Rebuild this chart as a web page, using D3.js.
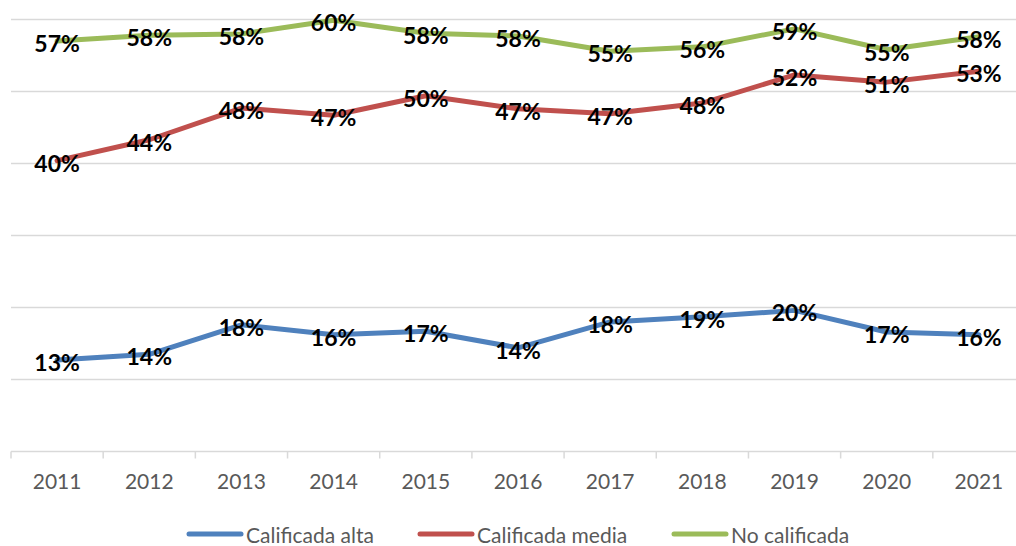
<!DOCTYPE html>
<html>
<head>
<meta charset="utf-8">
<script src="https://cdn.jsdelivr.net/npm/d3@7"></script>
<style>
    body { margin: 0; background: #fff; }
    svg { display: block; }
    text { font-family: Lato, "Open Sans", sans-serif; }
</style>
</head>
<body>
<div id="chart"></div>
<script>
// Data
var years = ["2011", "2012", "2013", "2014", "2015", "2016", "2017", "2018", "2019", "2020", "2021"];
var seriesNames = ["Calificada alta", "Calificada media", "No calificada"];
var altaValues = [0.127, 0.135, 0.176, 0.162, 0.167, 0.144, 0.180, 0.187, 0.196, 0.166, 0.162];
var mediaValues = [0.404, 0.433, 0.477, 0.467, 0.494, 0.476, 0.469, 0.484, 0.523, 0.513, 0.528];
var noCalifValues = [0.570, 0.578, 0.580, 0.599, 0.581, 0.577, 0.556, 0.562, 0.587, 0.558, 0.576];
var labelTexts = [
    ["13%", "14%", "18%", "16%", "17%", "14%", "18%", "19%", "20%", "17%", "16%"],
    ["40%", "44%", "48%", "47%", "50%", "47%", "47%", "48%", "52%", "51%", "53%"],
    ["57%", "58%", "58%", "60%", "58%", "58%", "55%", "56%", "59%", "55%", "58%"]
];
var gridTicks = [0, 0.1, 0.2, 0.3, 0.4, 0.5, 0.6];
var colors = ["#4F81BD", "#C0504D", "#9BBB59"];

var svgWidth = 1016;
var svgHeight = 546;

var svg = d3.select("#chart")
    .append("svg")
    .attr("width", svgWidth)
    .attr("height", svgHeight);

// band scale runs past the right edge, like the cropped original
var xScale = d3.scaleBand()
    .domain(years)
    .range([11, 1025]);

var yScale = d3.scaleLinear()
    .domain([0, 0.6])
    .range([451.5, 19.5]);

var xCenter = function (d) { return xScale(d) + xScale.bandwidth() / 2; };

// horizontal gridlines
svg.append("g")
    .selectAll("line")
    .data(gridTicks)
    .enter()
    .append("line")
    .attr("x1", 11)
    .attr("x2", 1025)
    .attr("y1", d => yScale(d))
    .attr("y2", d => yScale(d))
    .attr("stroke", "#D9D9D9")
    .attr("stroke-width", 1.5);

// x axis
var xAxis = svg.append("g")
    .attr("transform", "translate(0," + yScale(0) + ")")
    .call(d3.axisBottom(xScale).tickSize(0).tickPadding(23));

xAxis.select(".domain").remove();
xAxis.selectAll("text")
    .attr("fill", "#595959")
    .style("font-size", "21px")
    .style("font-family", "Lato, sans-serif");

// tick marks between categories
svg.append("g")
    .selectAll("line")
    .data(years.concat(["end"]))
    .enter()
    .append("line")
    .attr("x1", (d, i) => 11 + i * xScale.bandwidth())
    .attr("x2", (d, i) => 11 + i * xScale.bandwidth())
    .attr("y1", yScale(0))
    .attr("y2", yScale(0) + 7)
    .attr("stroke", "#D9D9D9")
    .attr("stroke-width", 1.5);

var allSeries = [altaValues, mediaValues, noCalifValues];

var line = d3.line()
    .x((d, i) => xCenter(years[i]))
    .y(d => yScale(d));

// lines
svg.append("g")
    .selectAll("path")
    .data(allSeries)
    .enter()
    .append("path")
    .attr("d", d => line(d))
    .attr("fill", "none")
    .attr("stroke", (d, i) => colors[i])
    .attr("stroke-width", 5)
    .attr("stroke-linejoin", "round")
    .attr("stroke-linecap", "round");

// data labels centred on the points
allSeries.forEach(function (values, s) {
    svg.append("g")
        .selectAll("text")
        .data(values)
        .enter()
        .append("text")
        .attr("x", (d, i) => xCenter(years[i]))
        .attr("y", d => yScale(d) + 2)
        .attr("text-anchor", "middle")
        .attr("dominant-baseline", "central")
        .attr("fill", "#000")
        .style("font-size", "23px")
        .style("font-weight", "bold")
        .text((d, i) => labelTexts[s][i]);
});

// legend
var legendX = [187, 418, 672];
var legend = svg.append("g")
    .selectAll("g")
    .data(seriesNames)
    .enter()
    .append("g")
    .attr("transform", (d, i) => "translate(" + legendX[i] + ",534)");

legend.append("line")
    .attr("x1", 2)
    .attr("x2", 54)
    .attr("stroke", (d, i) => colors[i])
    .attr("stroke-width", 5)
    .attr("stroke-linecap", "round");

legend.append("text")
    .attr("x", 59)
    .attr("y", 0)
    .attr("dominant-baseline", "central")
    .attr("fill", "#595959")
    .style("font-size", "21px")
    .text(d => d);
</script>
</body>
</html>
